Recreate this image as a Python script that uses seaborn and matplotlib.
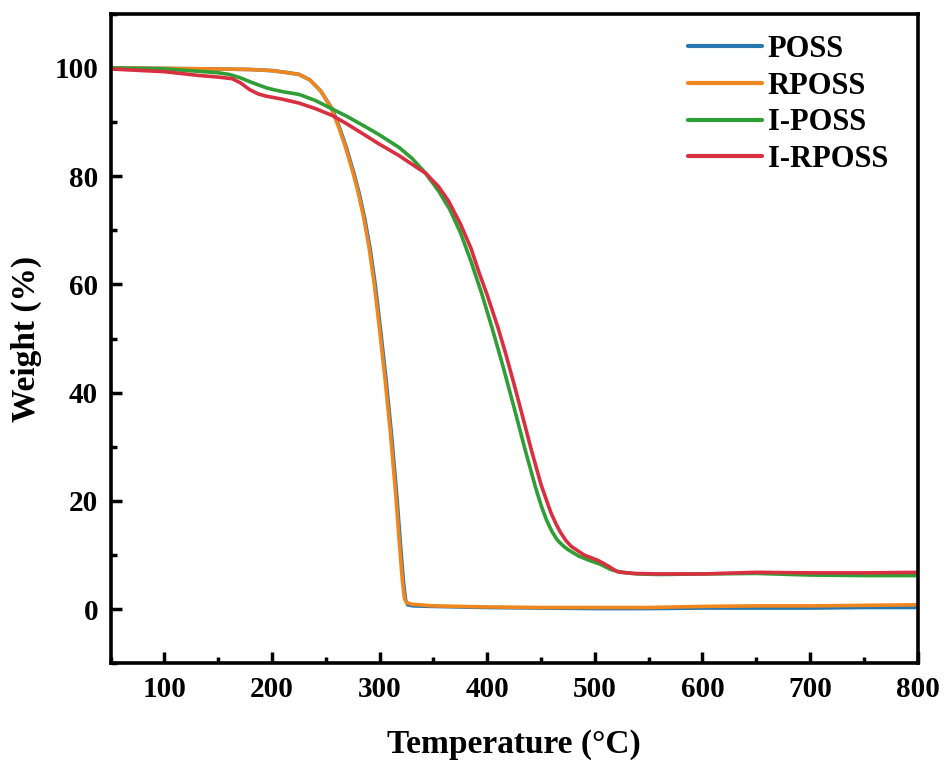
import numpy as np
import pandas as pd
import matplotlib
matplotlib.use("Agg")
import matplotlib.pyplot as plt
from matplotlib.ticker import MultipleLocator
import seaborn as sns

# TGA curves
t_poss = [50, 100, 150, 180, 200, 215, 225, 235, 245, 256, 263, 269, 276, 281, 286, 291, 296, 301, 306, 311, 316, 319, 322,
          324, 326, 331, 350, 400, 450, 500, 550, 600, 650, 700, 750, 800]
w_poss = [100, 99.9, 99.8, 99.7, 99.5, 99.1, 98.8, 97.8, 95.8, 92.4, 88.8, 85.3, 80.6, 76.8, 72.3, 66.8, 59.8, 51.3, 42.3,
          32.3, 20.8, 12.8, 5.3, 1.8, 0.8, 0.6, 0.5, 0.3, 0.2, 0.1, 0.1, 0.2, 0.2, 0.2, 0.3, 0.3]

t_rposs = [50, 100, 150, 180, 200, 215, 225, 235, 245, 255, 262, 268, 275, 280, 285, 290, 295, 300, 305, 310, 315, 318, 321,
           323, 325, 330, 350, 400, 450, 500, 550, 600, 650, 700, 750, 800]
w_rposs = [100, 99.9, 99.8, 99.7, 99.5, 99.1, 98.8, 97.8, 95.8, 92.6, 89, 85.5, 80.8, 77, 72.5, 67, 60, 51.5, 42.5, 32.5,
           21, 13, 5.5, 2, 1.2, 0.9, 0.6, 0.4, 0.3, 0.3, 0.3, 0.5, 0.6, 0.6, 0.7, 0.8]

t_iposs = [50, 100, 130, 150, 160, 170, 180, 188, 195, 203, 210, 225, 240, 256, 270, 287, 300, 318, 330, 342, 355, 365, 375,
           385, 395, 405, 415, 425, 435, 445, 450, 455, 460, 465, 470, 475, 485, 495, 505, 515, 525, 540, 560, 600, 650,
           700, 750, 800]
w_iposs = [100, 99.8, 99.4, 99.1, 98.8, 98.2, 97.4, 96.8, 96.3, 95.9, 95.6, 95.1, 94, 92.4, 91, 89.1, 87.6, 85.3, 83.3, 80.7,
           77.2, 73.9, 69.6, 64.2, 58.2, 51.6, 44.6, 37.2, 29.6, 22.4, 19.2, 16.5, 14.4, 12.8, 11.8, 11, 9.8, 9, 8.3, 7.3,
           6.8, 6.5, 6.4, 6.5, 6.6, 6.3, 6.2, 6.2]

t_irposs = [50, 100, 132, 150, 163, 171, 179, 187, 194, 202, 210, 225, 240, 256, 270, 287, 299, 318, 330, 343, 355, 364, 375,
            385, 392, 400, 410, 417, 425, 433, 441, 450, 459, 464, 468, 473, 478, 490, 503, 512, 521, 535, 560, 600, 650,
            700, 750, 800]
w_irposs = [99.8, 99.3, 98.6, 98.3, 98, 97.2, 96, 95.2, 94.8, 94.5, 94.2, 93.5, 92.5, 91.2, 89.6, 87.5, 86, 83.8, 82.2,
            80.5, 78, 75.4, 71.2, 66.6, 62.4, 58, 52, 47.3, 41.5, 35.5, 29.4, 23, 17.9, 15.7, 14.2, 12.7, 11.6, 10, 9, 8,
            6.9, 6.6, 6.5, 6.5, 6.8, 6.7, 6.7, 6.8]

labels = ["POSS", "RPOSS", "I-POSS", "I-RPOSS"]
colors = ["#2878b0", "#f0861e", "#2f9e35", "#d93041"]

sns.set_style("ticks")
plt.rcParams["font.family"] = ["Liberation Serif", "DejaVu Serif"]
plt.rcParams["font.weight"] = "bold"
plt.rcParams["text.color"] = "black"
plt.rcParams["axes.labelcolor"] = "black"
plt.rcParams["xtick.color"] = "black"
plt.rcParams["ytick.color"] = "black"

fig = plt.figure(figsize=(9.46, 7.65), dpi=100)
ax = fig.add_axes([0.117, 0.133, 0.853, 0.849])

series = [(t_poss, w_poss), (t_rposs, w_rposs), (t_iposs, w_iposs), (t_irposs, w_irposs)]
for (t, w), lab, c in zip(series, labels, colors):
    sns.lineplot(x=t, y=w, ax=ax, color=c, label=lab, lw=2.6)

ax.set_xlim(50, 800)
ax.set_ylim(-10, 110)
ax.xaxis.set_major_locator(MultipleLocator(100))
ax.xaxis.set_minor_locator(MultipleLocator(50))
ax.yaxis.set_major_locator(MultipleLocator(20))
ax.yaxis.set_minor_locator(MultipleLocator(10))
ax.tick_params(which="major", direction="in", length=8, width=2.5, labelsize=21, pad=9)
ax.tick_params(which="minor", direction="in", length=4, width=2.5)
ax.tick_params(top=False, right=False, which="both")
for s in ax.spines.values():
    s.set_linewidth(2.6)
    s.set_color("black")

ax.set_xlabel("Temperature (°C)", fontsize=24, fontweight="bold", labelpad=19)
ax.set_ylabel("Weight (%)", fontsize=24, fontweight="bold", labelpad=9)

leg = ax.legend(loc="upper right", frameon=False, fontsize=22, handlelength=2.4, handletextpad=0.2,
                labelspacing=0.25, borderaxespad=0.3, bbox_to_anchor=(0.99, 1.0))
for line in leg.get_lines():
    line.set_linewidth(3)

fig.savefig("out.png", dpi=100)
